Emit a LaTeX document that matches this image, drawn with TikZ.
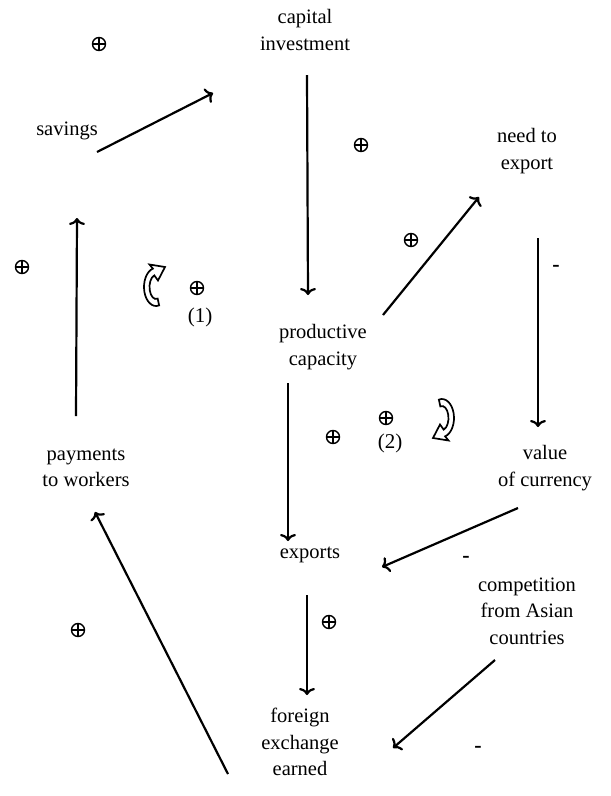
\documentclass[tikz,border=0pt]{standalone}
\usepackage{fontspec}
\setmainfont{Liberation Serif}
\usetikzlibrary{arrows.meta}
\tikzset{
	var/.style={align=center, inner sep=0pt, font=\fontsize{20.5}{26.5}\selectfont},
	link/.style={-{To[length=7pt,width=16pt]}, line width=2.2pt},
	sgn/.style={inner sep=0pt, font=\fontsize{21}{24}\selectfont},
	minus/.style={inner sep=0pt, font=\fontsize{22}{24}\selectfont\bfseries},
	plus/.style={circle, draw, line width=1.4pt, minimum size=13pt, inner sep=0pt,
		path picture={\draw[line width=1.2pt]
			(path picture bounding box.north) -- (path picture bounding box.south)
			(path picture bounding box.west) -- (path picture bounding box.east);}},
	loopsign/.pic={
		\draw[line width=1.7pt, fill=white] (75:12 and 19)
			arc[start angle=75, end angle=255, x radius=12, y radius=19]
			-- (-6.5,-22.5) -- (9,-20) -- (2,-6.5) -- (255:6.5 and 12)
			arc[start angle=255, end angle=75, x radius=6.5, y radius=12] -- cycle;
	}
}

\begin{document}
\begin{tikzpicture}[x=1pt, y=-1pt]
	\useasboundingbox (0,0) rectangle (611,796);
	% variables
	\node[var] (cap) at (305,30) {capital\\investment};
	\node[var] (sav) at (67,131) {savings};
	\node[var] (need) at (527,151) {need to\\export};
	\node[var] (prod) at (323,347) {productive\\capacity};
	\node[var] (pay) at (86,468) {payments\\to workers};
	\node[var] (val) at (545,468) {value\\of currency};
	\node[var] (exp) at (310,555) {exports};
	\node[var] (comp) at (527,611) {competition\\from Asian\\countries};
	\node[var] (forx) at (300,742) {foreign\\exchange\\earned};
	% links
	\draw[link] ([shift={(30,21)}]sav.center) -- ([shift={(-92,63)}]cap.center);
	\draw[link] ([shift={(2,45)}]cap.center) -- ([shift={(-15,-52)}]prod.center);
	\draw[link] ([shift={(60,-32)}]prod.center) -- ([shift={(-48,46)}]need.center);
	\draw[link] ([shift={(11,87)}]need.center) -- ([shift={(-7,-41)}]val.center);
	\draw[link] ([shift={(-27,40)}]val.center) -- ([shift={(72,12)}]exp.center);
	\draw[link] ([shift={(-35,36)}]prod.center) -- ([shift={(-22,-14)}]exp.center);
	\draw[link] ([shift={(-3,40)}]exp.center) -- ([shift={(7,-47)}]forx.center);
	\draw[link] ([shift={(-32,49)}]comp.center) -- ([shift={(93,6)}]forx.center);
	\draw[link] ([shift={(-72,32)}]forx.center) -- ([shift={(9,44)}]pay.center);
	\draw[link] ([shift={(-10,-52)}]pay.center) -- ([shift={(10,87)}]sav.center);
	% signs
	\foreach \p [count=\i] in {(99,44),(361,145),(411,240),(22,267),(197,288),(386,418),(333,437),(329,622),(78,630)}
		\node[plus] (pl\i) at \p {};
	\foreach \p [count=\i] in {(556,268),(466,559),(478,749)}
		\node[minus] (mi\i) at \p {-};
	% loops
	\pic at (156,287) {loopsign};
	\pic[rotate=180] at (442,418) {loopsign};
	\node[sgn] (lp1) at (200,317) {(1)};
	\node[sgn] (lp2) at (390,443) {(2)};
\end{tikzpicture}
\end{document}
